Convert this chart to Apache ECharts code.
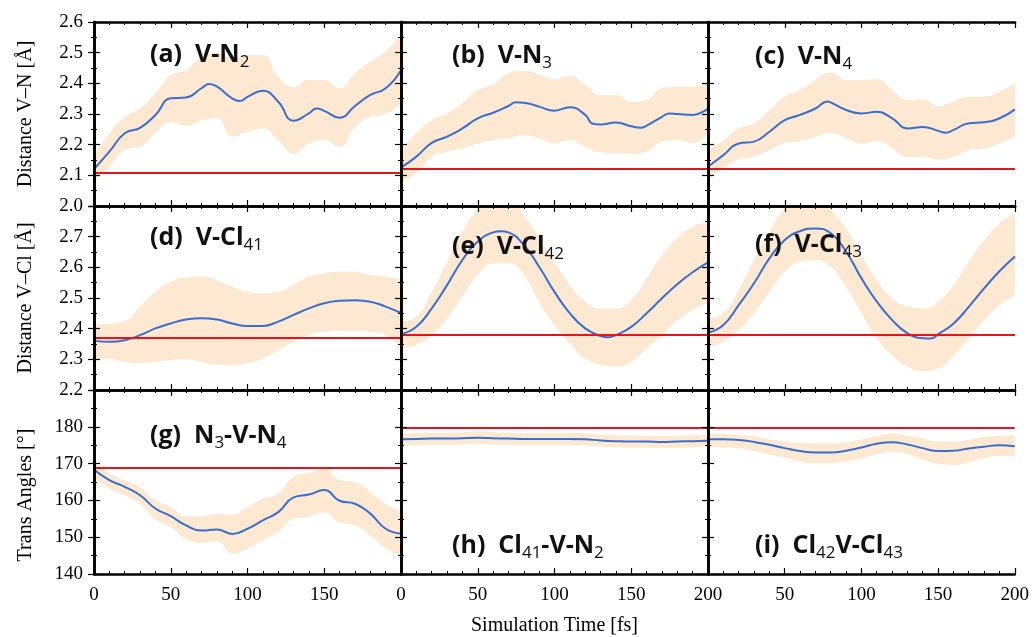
<!DOCTYPE html>
<html>
<head>
<meta charset="utf-8">
<script src="https://cdn.jsdelivr.net/npm/echarts@6/dist/echarts.min.js"></script>
<style>
  html, body { margin: 0; padding: 0; background: #fff; }
  #chart { width: 1032px; height: 637px; }
</style>
</head>
<body>
<div id="chart"></div>
<script>
// ---- data -------------------------------------------------------------
const TIME = [0,10,20,30,40,50,60,70,80,90,100,110,120,130,140,150,160,170,180,190,200];

const X_TICKS = [0, 50, 100, 150, 200];
const Y_TICKS_VN = [2.0, 2.1, 2.2, 2.3, 2.4, 2.5, 2.6];
const Y_TICKS_VCL = [2.2, 2.3, 2.4, 2.5, 2.6, 2.7, 2.8];
const Y_TICKS_ANG = [140, 150, 160, 170, 180, 190];

const ROW_TITLES = ['Distance V\u2013N [\u00c5]', 'Distance V\u2013Cl [\u00c5]', 'Trans Angles [\u00b0]'];
const X_TITLE = 'Simulation Time [fs]';

const PANEL_LABELS = [
  '{b|(a)  V-N}{s|2}',
  '{b|(b)  V-N}{s|3}',
  '{b|(c)  V-N}{s|4}',
  '{b|(d)  V-Cl}{s|41}',
  '{b|(e)  V-Cl}{s|42}',
  '{b|(f)  V-Cl}{s|43}',
  '{b|(g)  N}{s|3}{b|-V-N}{s|4}',
  '{b|(h)  Cl}{s|41}{b|-V-N}{s|2}',
  '{b|(i)  Cl}{s|42}{b|V-Cl}{s|43}'
];

// mean trajectories (sampled on TIME) plus extra turning points
const MEAN_A = [2.12,2.177,2.237,2.255,2.297,2.351,2.354,2.384,2.39,2.351,2.356,2.376,2.34,2.278,2.302,2.31,2.288,2.326,2.362,2.384,2.443];
const PEAKS_A = [[75,2.398],[95,2.342],[145,2.318]];
const LOW_A  = [2.08,2.128,2.183,2.193,2.237,2.275,2.261,2.28,2.286,2.226,2.242,2.253,2.215,2.17,2.204,2.215,2.193,2.258,2.291,2.30,2.335];
const HIGH_A = [2.166,2.237,2.291,2.318,2.367,2.427,2.443,2.487,2.498,2.482,2.492,2.492,2.422,2.387,2.411,2.411,2.384,2.433,2.47,2.503,2.56];
const REF_A = 2.11;

const MEAN_B = [2.125,2.161,2.206,2.226,2.253,2.286,2.304,2.326,2.337,2.324,2.311,2.322,2.297,2.266,2.272,2.26,2.262,2.291,2.30,2.297,2.318];
const PEAKS_B = [[75,2.338],[125,2.268],[156,2.255],[175,2.302]];
const LOW_B  = [2.08,2.107,2.161,2.177,2.188,2.204,2.215,2.221,2.231,2.221,2.204,2.215,2.193,2.175,2.172,2.17,2.177,2.21,2.215,2.204,2.237];
const HIGH_B = [2.183,2.237,2.28,2.302,2.335,2.378,2.395,2.433,2.441,2.43,2.413,2.424,2.395,2.362,2.362,2.34,2.346,2.384,2.389,2.389,2.405];
const REF_B = 2.123;

const MEAN_C = [2.128,2.166,2.204,2.21,2.242,2.28,2.297,2.318,2.338,2.313,2.302,2.307,2.286,2.253,2.258,2.245,2.248,2.27,2.273,2.286,2.315];
const PEAKS_C = [[78,2.341],[155,2.239]];
const LOW_C  = [2.085,2.123,2.152,2.161,2.183,2.204,2.21,2.226,2.237,2.221,2.204,2.21,2.188,2.159,2.161,2.152,2.161,2.183,2.188,2.204,2.226];
const HIGH_C = [2.177,2.215,2.253,2.27,2.313,2.356,2.378,2.411,2.435,2.411,2.411,2.413,2.378,2.346,2.348,2.326,2.34,2.356,2.356,2.373,2.40];
const REF_C = 2.123;

const MEAN_D = [2.361,2.357,2.362,2.379,2.401,2.417,2.43,2.434,2.43,2.417,2.409,2.409,2.423,2.445,2.466,2.483,2.491,2.493,2.488,2.472,2.451];
const PEAKS_D = [];
const LOW_D  = [2.303,2.301,2.292,2.287,2.292,2.298,2.30,2.292,2.282,2.282,2.287,2.303,2.33,2.357,2.379,2.39,2.393,2.393,2.39,2.38,2.335];
const HIGH_D = [2.415,2.417,2.425,2.472,2.52,2.553,2.567,2.569,2.559,2.537,2.52,2.515,2.52,2.542,2.569,2.58,2.586,2.586,2.575,2.57,2.56];
const REF_D = 2.365;

const MEAN_E = [2.382,2.406,2.466,2.542,2.624,2.684,2.714,2.714,2.673,2.602,2.52,2.45,2.401,2.376,2.379,2.406,2.45,2.499,2.545,2.584,2.616];
const PEAKS_E = [[65,2.718],[135,2.372]];
const LOW_E  = [2.336,2.347,2.379,2.434,2.506,2.575,2.613,2.613,2.575,2.488,2.412,2.352,2.303,2.282,2.276,2.292,2.336,2.379,2.428,2.461,2.483];
const HIGH_E = [2.423,2.439,2.52,2.618,2.716,2.787,2.82,2.82,2.771,2.695,2.618,2.542,2.488,2.466,2.466,2.493,2.564,2.64,2.695,2.732,2.749];
const REF_E = 2.379;

const MEAN_F = [2.387,2.412,2.477,2.548,2.629,2.689,2.718,2.727,2.711,2.651,2.564,2.488,2.428,2.385,2.369,2.382,2.417,2.472,2.532,2.588,2.635];
const PEAKS_F = [[145,2.368]];
const LOW_F  = [2.338,2.358,2.396,2.45,2.52,2.585,2.618,2.624,2.602,2.537,2.45,2.369,2.314,2.276,2.262,2.27,2.314,2.369,2.428,2.477,2.51];
const HIGH_F = [2.434,2.45,2.526,2.624,2.716,2.792,2.83,2.84,2.787,2.727,2.64,2.559,2.499,2.472,2.466,2.488,2.542,2.618,2.689,2.743,2.776];
const REF_F = 2.382;

const MEAN_G = [168.4,165.5,163.7,161.4,157.8,155.7,153.2,151.8,152.1,150.9,152.3,154.6,156.8,160.8,161.6,162.8,159.9,159.1,156.4,152.3,151.0];
const PEAKS_G = [];
const LOW_G  = [166.4,163.2,161.4,159.1,154.8,152.8,149.6,148.4,148.8,145.5,146.9,149.2,151.4,155.0,155.5,156.8,154.1,153.2,150.5,146.9,145.0];
const HIGH_G = [170.5,167.3,165.5,163.7,160.0,158.2,155.7,155.7,156.4,156.1,158.2,160.5,161.9,166.4,167.5,168.7,165.5,165.0,162.3,159.1,157.0];
const REF_G = 169;

const MEAN_H = [176.6,176.7,176.8,176.8,176.9,177.0,176.9,176.8,176.7,176.7,176.7,176.7,176.6,176.3,176.1,176.0,176.0,175.9,176.0,176.1,176.2];
const PEAKS_H = [];
const LOW_H  = [174.9,175.0,175.1,175.1,175.2,175.3,175.2,175.1,175.0,175.0,175.0,175.0,174.9,174.6,174.4,174.3,174.3,174.2,174.3,174.4,174.5];
const HIGH_H = [178.2,178.3,178.4,178.4,178.5,178.7,178.5,178.4,178.3,178.3,178.3,178.3,178.2,177.9,177.7,177.6,177.6,177.5,177.6,177.7,177.8];
const REF_H = 179.8;

const MEAN_I = [176.6,176.6,176.4,175.9,175.1,174.2,173.4,173.0,173.0,173.5,174.4,175.4,175.8,175.2,174.2,173.4,173.5,174.1,174.6,175.0,174.7];
const PEAKS_I = [];
const LOW_I  = [174.6,174.4,174.2,173.4,172.5,171.6,170.6,170.1,170.1,170.6,171.4,172.5,173.2,172.6,171.0,170.0,169.6,170.4,171.5,172.2,171.9];
const HIGH_I = [178.2,178.1,177.8,177.5,176.6,176.0,175.6,175.5,175.5,175.8,176.6,177.5,178.2,177.6,176.9,176.0,176.0,176.5,177.2,177.6,177.8];
const REF_I = 179.8;

// ---- panels -------------------------------------------------------------
const PANELS = [
  { mean: MEAN_A, peaks: PEAKS_A, low: LOW_A, high: HIGH_A, ref: REF_A },
  { mean: MEAN_B, peaks: PEAKS_B, low: LOW_B, high: HIGH_B, ref: REF_B },
  { mean: MEAN_C, peaks: PEAKS_C, low: LOW_C, high: HIGH_C, ref: REF_C },
  { mean: MEAN_D, peaks: PEAKS_D, low: LOW_D, high: HIGH_D, ref: REF_D },
  { mean: MEAN_E, peaks: PEAKS_E, low: LOW_E, high: HIGH_E, ref: REF_E },
  { mean: MEAN_F, peaks: PEAKS_F, low: LOW_F, high: HIGH_F, ref: REF_F },
  { mean: MEAN_G, peaks: PEAKS_G, low: LOW_G, high: HIGH_G, ref: REF_G },
  { mean: MEAN_H, peaks: PEAKS_H, low: LOW_H, high: HIGH_H, ref: REF_H },
  { mean: MEAN_I, peaks: PEAKS_I, low: LOW_I, high: HIGH_I, ref: REF_I }
];
const ROW_TICKS = [Y_TICKS_VN, Y_TICKS_VCL, Y_TICKS_ANG];

// ---- layout / style -------------------------------------------------------
const GRID_LEFT = 94, GRID_TOP = 22, CELL_W = 307, CELL_H = 184;
const LABEL_POS = [[150,55],[452,55.5],[755,56.5],[150,238],[452,247],[755,245],[150,435.5],[452,545.5],[755,546]];
const BLUE = '#3b6dcf', RED = '#e5141d', BAND = '#fde8d2';
const SERIF = '"Liberation Serif", "Times New Roman", serif';
const SANS = '"Open Sans", "Noto Sans", sans-serif';
const SMOOTH = 0.5;

const grids = [], xAxes = [], yAxes = [], series = [], titles = [];

const frameLine = { show: true, lineStyle: { color: '#000', width: 2.6 } };
const tickStyle = { show: true, inside: true, length: 6, lineStyle: { color: '#000', width: 1.2 } };

PANELS.forEach((p, k) => {
  const r = Math.floor(k / 3), c = k % 3;
  const ticks = ROW_TICKS[r];
  const yMin = ticks[0], yMax = ticks[ticks.length - 1];
  const yStep = ticks[1] - ticks[0];
  const xMin = X_TICKS[0], xMax = X_TICKS[X_TICKS.length - 1];

  grids.push({
    left: GRID_LEFT + c * CELL_W, top: GRID_TOP + r * CELL_H,
    width: CELL_W, height: CELL_H, containLabel: false
  });

  const xBase = {
    type: 'value', gridIndex: k, min: xMin, max: xMax,
    interval: X_TICKS[1] - X_TICKS[0], z: 10,
    axisLine: frameLine, axisTick: tickStyle,
    minorTick: { show: true, splitNumber: 5, length: 3, lineStyle: { color: '#000', width: 1 } },
    splitLine: { show: false }, minorSplitLine: { show: false }
  };
  // shared frame edges: the first column drops its 200, the last drops its 0
  const bottomX = Object.assign({}, xBase, {
    position: 'bottom',
    axisLabel: {
      show: r === 2, margin: 12, color: '#000', fontFamily: SERIF, fontSize: 19,
      formatter: v => ((c === 0 && v === xMax) || (c === 2 && v === xMin)) ? '' : String(v)
    }
  });
  if (r === 2 && c === 1) {
    Object.assign(bottomX, {
      name: X_TITLE, nameLocation: 'middle', nameGap: 42,
      nameTextStyle: { color: '#000', fontFamily: SERIF, fontSize: 20 }
    });
  }
  xAxes.push(bottomX);
  xAxes.push(Object.assign({}, xBase, { position: 'top', axisLabel: { show: false } }));

  const yBase = {
    type: 'value', gridIndex: k, min: yMin, max: yMax, interval: yStep, z: 10,
    axisLine: frameLine, axisTick: tickStyle,
    minorTick: { show: true, splitNumber: 2, length: 3, lineStyle: { color: '#000', width: 1 } },
    splitLine: { show: false }, minorSplitLine: { show: false }
  };
  const leftY = Object.assign({}, yBase, {
    position: 'left',
    axisLabel: {
      show: c === 0, margin: 11, color: '#000', fontFamily: SERIF, fontSize: 19,
      formatter: v => {
        if (r > 0 && Math.abs(v - yMax) < 1e-6) return '';
        return r < 2 ? v.toFixed(1) : String(Math.round(v));
      }
    }
  });
  if (c === 0) {
    Object.assign(leftY, {
      name: ROW_TITLES[r], nameLocation: 'middle', nameGap: 58,
      nameTextStyle: {
        color: '#000', fontFamily: SERIF, fontSize: 20,
        padding: r === 2 ? [0, 26, 0, 0] : 0
      }
    });
  }
  yAxes.push(leftY);
  yAxes.push(Object.assign({}, yBase, { position: 'right', axisLabel: { show: false } }));

  const xi = 2 * k, yi = 2 * k;

  // spread band: upper edge filled down to the axis, then the lower edge
  // filled with the background so only the band between them stays tinted
  series.push({
    type: 'line', xAxisIndex: xi, yAxisIndex: yi,
    data: TIME.map((t, i) => [t, p.high[i]]),
    smooth: SMOOTH, symbol: 'none', lineStyle: { width: 0, opacity: 0 },
    areaStyle: { color: BAND, opacity: 1, origin: 'start' },
    silent: true, z: 1
  });
  series.push({
    type: 'line', xAxisIndex: xi, yAxisIndex: yi,
    data: TIME.map((t, i) => [t, p.low[i]]),
    smooth: SMOOTH, symbol: 'none', lineStyle: { width: 0, opacity: 0 },
    areaStyle: { color: '#ffffff', opacity: 1, origin: 'start' },
    silent: true, z: 2
  });

  // mean curve with the reference value drawn across the panel
  const meanPts = TIME.map((t, i) => [t, p.mean[i]]).concat(p.peaks)
    .sort((a, b) => a[0] - b[0]);
  series.push({
    type: 'line', xAxisIndex: xi, yAxisIndex: yi,
    data: meanPts, smooth: SMOOTH, symbol: 'none',
    lineStyle: { color: BLUE, width: 2 }, z: 3,
    markLine: {
      silent: true, symbol: 'none', label: { show: false },
      lineStyle: { color: RED, width: 2, type: 'solid' },
      data: [{ yAxis: p.ref }]
    }
  });

  const pos = LABEL_POS[k];
  titles.push({
    text: PANEL_LABELS[k], left: pos[0], top: pos[1] - 16, padding: 0,
    textStyle: {
      rich: {
        b: { fontFamily: SANS, fontWeight: 'bold', fontSize: 25, color: '#111', lineHeight: 32 },
        s: { fontFamily: SANS, fontWeight: 'normal', fontSize: 17, color: '#111', lineHeight: 17, verticalAlign: 'bottom' }
      }
    }
  });
});

const chart = echarts.init(document.getElementById('chart'), null, { renderer: 'canvas' });
chart.setOption({
  animation: false,
  backgroundColor: '#fff',
  title: titles,
  grid: grids,
  xAxis: xAxes,
  yAxis: yAxes,
  series: series
});
</script>
</body>
</html>
